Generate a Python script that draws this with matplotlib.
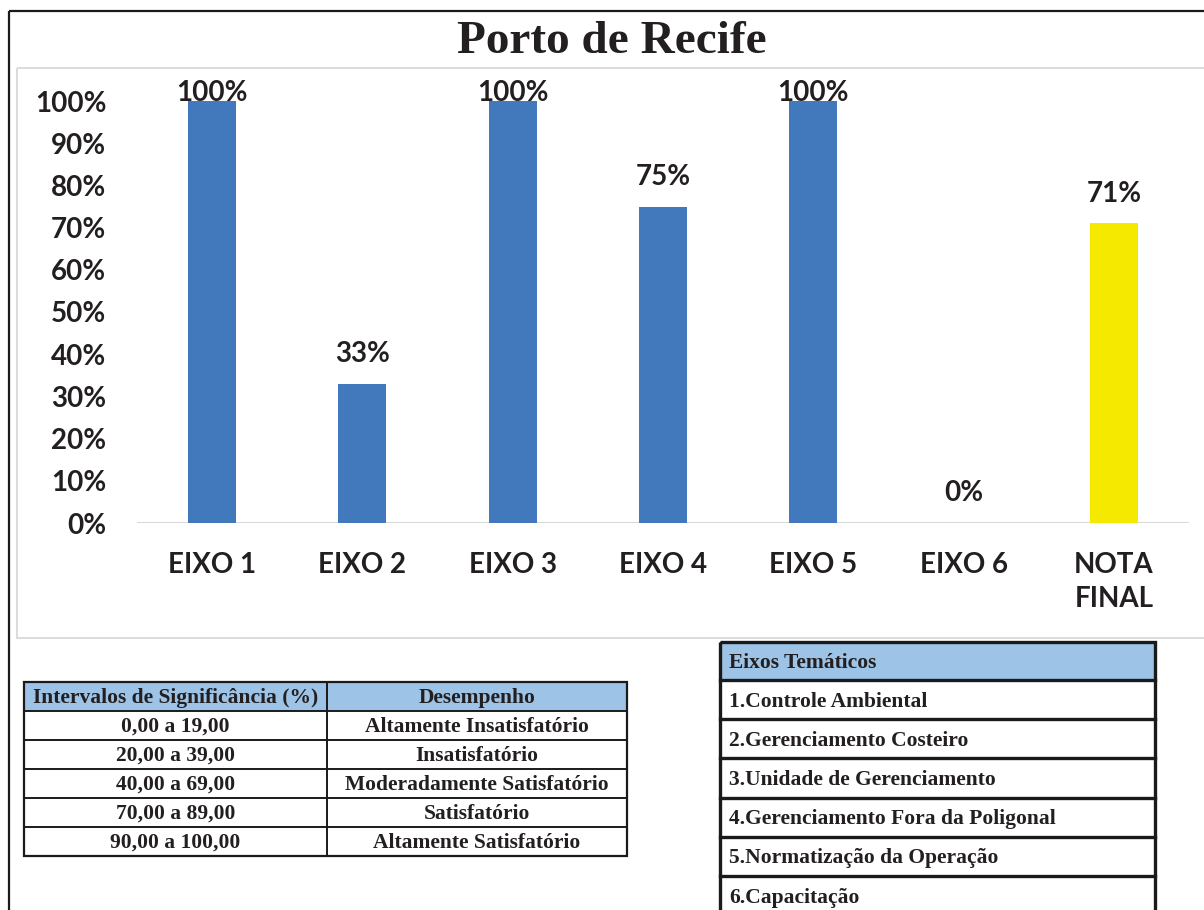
"""Porto de Recife: desempenho por eixo temático com tabelas de referência."""

import matplotlib
matplotlib.use("Agg")
import matplotlib.pyplot as plt
from matplotlib.patches import Rectangle

categories = ["EIXO 1", "EIXO 2", "EIXO 3", "EIXO 4", "EIXO 5", "EIXO 6", "NOTA\nFINAL"]
values = [100, 33, 100, 75, 100, 0, 71]
value_labels = ["100%", "33%", "100%", "75%", "100%", "0%", "71%"]
y_ticks = [0, 10, 20, 30, 40, 50, 60, 70, 80, 90, 100]

interval_header = ["Intervalos de Significância (%)", "Desempenho"]
intervals = ["0,00 a 19,00", "20,00 a 39,00", "40,00 a 69,00", "70,00 a 89,00", "90,00 a 100,00"]
performance = ["Altamente Insatisfatório", "Insatisfatório", "Moderadamente Satisfatório",
               "Satisfatório", "Altamente Satisfatório"]

axes_header = "Eixos Temáticos"
axes_names = ["1.Controle Ambiental", "2.Gerenciamento Costeiro", "3.Unidade de Gerenciamento",
              "4.Gerenciamento Fora da Poligonal", "5.Normatização da Operação", "6.Capacitação"]

BLUE = "#4279BD"
YELLOW = "#F5E900"
HEADER_BLUE = "#9DC3E6"
GRID_GRAY = "#D9D9D9"
TEXT = "#231F20"

W, H = 1204, 910
fig = plt.figure(figsize=(W / 100, H / 100), dpi=100)

# page overlay in pixel coordinates (frames + tables)
page = fig.add_axes([0, 0, 1, 1], zorder=0)
page.set_xlim(0, W)
page.set_ylim(H, 0)
page.axis("off")

# outer black frame and light gray chart box
page.add_patch(Rectangle((9, 11), W + 20, H + 20, fill=False, ec="#1a1a1a", lw=1.6))
page.add_patch(Rectangle((17, 68), W + 20, 570, fill=False, ec=GRID_GRAY, lw=1.3))

page.text(612, 42, "Porto de Recife", ha="center", va="center",
          family="Liberation Serif", weight="bold", fontsize=34, color=TEXT)

# chart
ax = fig.add_axes([137 / W, 1 - 523 / H, (1189 - 137) / W, (523 - 101) / H], zorder=1)
ax.set_facecolor("none")
x = list(range(len(categories)))
colors = [BLUE] * (len(values) - 1) + [YELLOW]
ax.bar(x, values, width=0.32, color=colors)
ax.set_xlim(-0.5, len(categories) - 0.5)
ax.set_ylim(0, 100)
ax.axhline(0, color=GRID_GRAY, lw=1.5, zorder=0)
for s in ax.spines.values():
    s.set_visible(False)

ax.set_yticks(y_ticks)
ax.set_yticklabels([f"{t}%" for t in y_ticks])
ax.set_xticks(x)
ax.set_xticklabels(categories, linespacing=1.35)
ax.tick_params(axis="y", length=0, pad=22)
ax.tick_params(axis="x", length=0, pad=21)
for lab in ax.get_yticklabels() + ax.get_xticklabels():
    lab.set_family("Lato")
    lab.set_weight("bold")
    lab.set_fontsize(20)
    lab.set_color(TEXT)
for lab in ax.get_xticklabels():
    lab.set_verticalalignment("top")

for xi, v, lbl in zip(x, values, value_labels):
    ax.text(xi, min(v + 7, 102), lbl, ha="center", va="center", family="Lato",
            weight="bold", fontsize=20, color=TEXT, clip_on=False)

tfont = dict(family="Liberation Serif", weight="bold", fontsize=15.5, color=TEXT)

# table 1: intervalos de significancia
t1_left, t1_mid, t1_right = 24, 327, 627
t1_top, t1_head, row_h1 = 682, 29, 29
page.add_patch(Rectangle((t1_left, t1_top), t1_right - t1_left, t1_head,
                         fc=HEADER_BLUE, ec="none"))
n1 = len(intervals)
t1_bottom = t1_top + t1_head + n1 * row_h1
page.add_patch(Rectangle((t1_left, t1_top), t1_right - t1_left, t1_bottom - t1_top,
                         fill=False, ec="#1a1a1a", lw=1.6))
page.plot([t1_mid, t1_mid], [t1_top, t1_bottom], color="#1a1a1a", lw=1.4)
for i in range(n1):
    yy = t1_top + t1_head + i * row_h1
    page.plot([t1_left, t1_right], [yy, yy], color="#1a1a1a", lw=1.4)
page.text((t1_left + t1_mid) / 2, t1_top + t1_head / 2 + 1, interval_header[0],
          ha="center", va="center", **tfont)
page.text((t1_mid + t1_right) / 2, t1_top + t1_head / 2 + 1, interval_header[1],
          ha="center", va="center", **tfont)
for i, (a, b) in enumerate(zip(intervals, performance)):
    yc = t1_top + t1_head + i * row_h1 + row_h1 / 2 + 1.5
    page.text((t1_left + t1_mid) / 2, yc, a, ha="center", va="center", **tfont)
    page.text((t1_mid + t1_right) / 2, yc, b, ha="center", va="center", **tfont)

# table 2: eixos tematicos
t2_left, t2_right = 720, 1155
t2_top, t2_head, row_h2 = 642, 38, 39.2
page.add_patch(Rectangle((t2_left, t2_top), t2_right - t2_left, t2_head,
                         fc=HEADER_BLUE, ec="none"))
t2_bottom = t2_top + t2_head + len(axes_names) * row_h2
page.add_patch(Rectangle((t2_left, t2_top), t2_right - t2_left, t2_bottom - t2_top,
                         fill=False, ec="#1a1a1a", lw=2.4))
for i in range(len(axes_names)):
    yy = t2_top + t2_head + i * row_h2
    page.plot([t2_left, t2_right], [yy, yy], color="#1a1a1a", lw=2.4)
page.text(t2_left + 9, t2_top + t2_head / 2 + 2, axes_header, ha="left", va="center", **tfont)
for i, name in enumerate(axes_names):
    yc = t2_top + t2_head + i * row_h2 + row_h2 / 2 + 2
    page.text(t2_left + 9, yc, name, ha="left", va="center", **tfont)

fig.savefig("out.png", dpi=100)
